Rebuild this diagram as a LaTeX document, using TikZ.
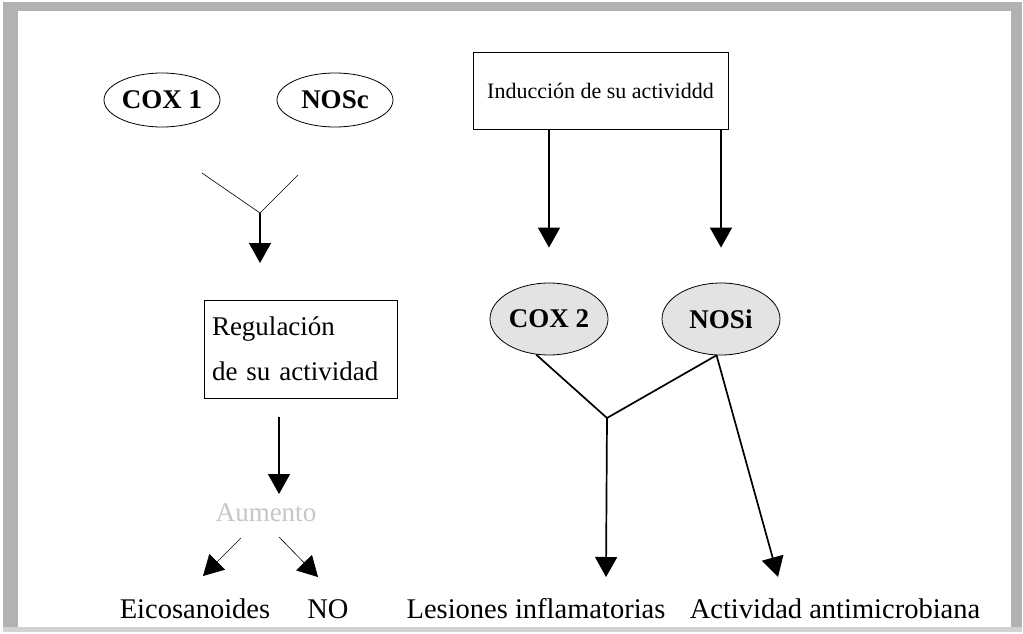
\documentclass[tikz,border=0pt]{standalone}
\usepackage{fontspec}
\setmainfont{Liberation Serif}
\usetikzlibrary{arrows.meta,shapes.geometric}

\begin{document}
\begin{tikzpicture}[x=1pt, y=-1pt,
    enz/.style={draw, shape=ellipse, line width=0.8pt, minimum width=116pt, minimum height=54pt, inner sep=0pt, font=\fontsize{27}{32}\selectfont\bfseries},
    ind/.style={enz, fill=gray!22, minimum width=118pt, minimum height=72pt},
    caja/.style={draw, shape=rectangle, line width=1pt},
    txt/.style={font=\fontsize{28.5}{34}\selectfont},
    arr/.style={-{Triangle[length=20pt,width=22pt]}, line width=1.5pt},
    fino/.style={line width=0.6pt},
    grueso/.style={line width=1.7pt}]
            \useasboundingbox (0,0) rectangle (1023,634);
            \fill[gray!60] (3,2) rectangle (1022,632);
            \fill[gray!35] (3,627) rectangle (1022,632);
            \fill[white] (18,11) rectangle (1011,627);

            \node[enz] (C1) at (162,100) {COX 1};
            \node[enz] (NC) at (335,100) {NOSc};
            \node[caja, minimum width=255pt, minimum height=76pt, font=\fontsize{22}{26}\selectfont] (IN) at (600.5,91) {Inducción de su actividdd};

            \coordinate (Ya) at (202,173);
            \coordinate (Yb) at (298,175);
            \coordinate (YJ) at (260,213);
            \coordinate (Yt) at (260,263);
            \draw[fino] (Ya) -- (YJ) -- (Yb);
            \draw[arr] (YJ) -- (Yt);

            \node[caja, text width=177pt, inner xsep=8pt, minimum height=98pt, align=left, font=\fontsize{27}{45}\selectfont] (RE) at (300.5,349) {Regulación\\de su actividad};

            \coordinate (Ra) at (279,417);
            \coordinate (Rt) at (279,494);
            \draw[arr] (Ra) -- (Rt);

            \node[font=\fontsize{27}{32}\selectfont, text=gray!45] (AU) at (266,513) {Aumento};

            \coordinate (Aa) at (241,538);
            \coordinate (Ae) at (203,576);
            \coordinate (Ab) at (279,537);
            \coordinate (An) at (318,577);
            \draw[arr, fino] (Aa) -- (Ae);
            \draw[arr, fino] (Ab) -- (An);

            \node[txt, anchor=base] (EI) at (195,618) {Eicosanoides};
            \node[txt, anchor=base] (NO) at (328,618) {NO};

            \node[ind] (CO2) at (549,319) {COX 2};
            \node[ind] (NSi) at (721,319) {NOSi};

            \draw[arr, shorten >=35pt] (IN.south -| CO2.north) -- (CO2.north);
            \draw[arr, shorten >=35pt] (IN.south -| NSi.north) -- (NSi.north);

            \coordinate (J2) at (607,418);
            \coordinate (T2) at (606,577);
            \coordinate (T3) at (778,577);
            \draw[grueso] (CO2.250) -- (J2) -- (NSi.263);
            \draw[arr, grueso] (J2) -- (T2);
            \draw[arr, grueso] (NSi.263) -- (T3);

            \node[txt, anchor=base] (LI) at (536,618) {Lesiones inflamatorias};
            \node[txt, anchor=base] (AM) at (835,618) {Actividad antimicrobiana};
\end{tikzpicture}
\end{document}
